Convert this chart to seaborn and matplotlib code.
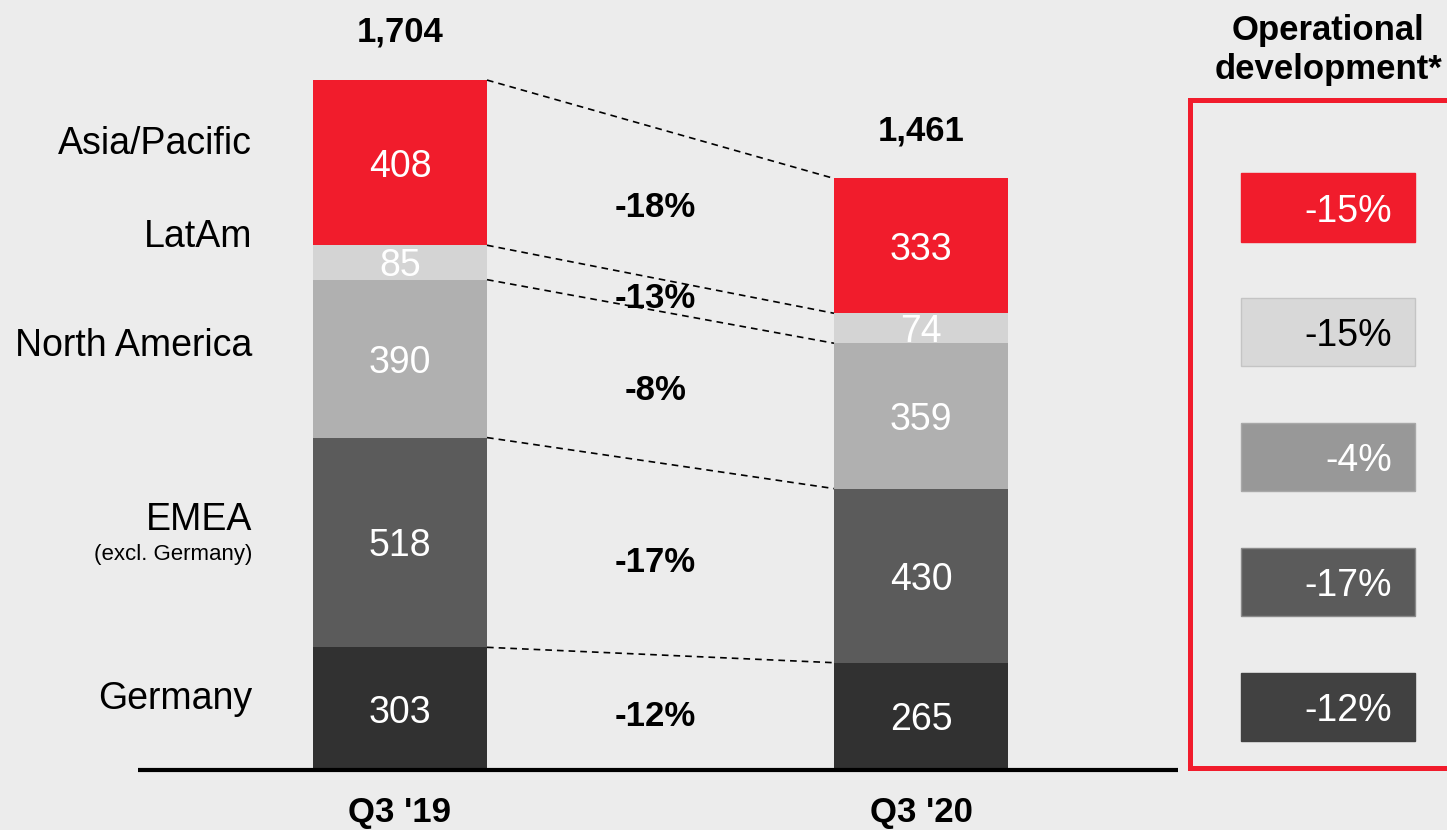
import numpy as np
import pandas as pd
import matplotlib.pyplot as plt
import seaborn as sns

# data, bottom -> top of the stack
regions = ["Germany", "EMEA", "North America", "LatAm", "Asia/Pacific"]
periods = ["Q3 '19", "Q3 '20"]
q3_19 = [303, 518, 390, 85, 408]
q3_20 = [265, 430, 359, 74, 333]
yoy_change = ["-12%", "-17%", "-8%", "-13%", "-18%"]
op_change = ["-12%", "-17%", "-4%", "-15%", "-15%"]

bar_colors = ["#313131", "#5b5b5b", "#b0b0b0", "#d4d4d4", "#f11c2c"]
box_colors = ["#414141", "#5b5b5b", "#989898", "#d8d8d8", "#f11c2c"]
box_edges = ["#414141", "#8a8a8a", "#a8a8a8", "#c4c4c4", "#f11c2c"]
box_text = ["white", "white", "white", "black", "white"]
bg = "#ececec"

sns.set_theme(style="white")
plt.rcParams["font.family"] = ["Liberation Sans", "DejaVu Sans"]
plt.rcParams["text.color"] = "black"
plt.rcParams["xtick.color"] = "black"
plt.rcParams["xtick.labelcolor"] = "black"

W, H = 1447, 830
fig = plt.figure(figsize=(W / 100, H / 100), dpi=100, facecolor=bg)

# main stacked bar chart (pixel-mapped axes)
ax = fig.add_axes([0, 60 / H, 1, 770 / H])
ax.set_facecolor("none")
bw = 174 / 521

cum19 = np.cumsum(q3_19)
cum20 = np.cumsum(q3_20)

# stack by overlaying cumulative bars, top layer first
for i in reversed(range(len(regions))):
    df = pd.DataFrame({"period": periods, "top": [cum19[i], cum20[i]]})
    sns.barplot(data=df, x="period", y="top", color=bar_colors[i],
                saturation=1, width=bw, linewidth=0, ax=ax)

ax.set_xlim(-400 / 521, 1047 / 521)
ax.set_ylim(0, 770 / 0.4049)
for s in ax.spines.values():
    s.set_visible(False)
ax.set_yticks([])
ax.set_xlabel("")
ax.set_ylabel("")
ax.set_xticks([0, 1])
ax.set_xticklabels(periods, fontsize=25, fontweight="bold", color="black")
ax.tick_params(axis="x", length=0, pad=19)

# small vertical nudges (points) for the region names
name_offset = {"Germany": 10, "EMEA": 19, "North America": 12, "LatAm": 21, "Asia/Pacific": 16}

# segment values
for i in range(len(regions)):
    m19 = cum19[i] - q3_19[i] / 2
    m20 = cum20[i] - q3_20[i] / 2
    ax.text(0, m19, str(q3_19[i]), ha="center", va="center_baseline",
            color="white", fontsize=27)
    ax.text(1, m20, str(q3_20[i]), ha="center", va="center_baseline",
            color="white", fontsize=27)
    # change between periods
    ax.text(0.49, (m19 + m20) / 2, yoy_change[i], ha="center", va="center_baseline",
            fontsize=25, fontweight="bold", color="black")
    # connector lines
    ax.plot([bw / 2, 1 - bw / 2], [cum19[i], cum20[i]], color="black",
            lw=1.2, ls=(0, (4, 3)))
    # region names on the left
    name = regions[i]
    ax.annotate(name, (-0.284, m19), xytext=(0, name_offset[name]),
                textcoords="offset points", ha="right", va="center_baseline",
                fontsize=27, color="black")
    if name == "EMEA":
        ax.annotate("(excl. Germany)", (-0.284, m19), xytext=(0, -7),
                    textcoords="offset points", ha="right", va="center_baseline",
                    fontsize=16, color="black")

# totals
for x, total in zip([0, 1], [cum19[-1], cum20[-1]]):
    ax.annotate(f"{total:,}", (x, total), xytext=(0, 37), textcoords="offset points",
                ha="center", va="center_baseline", fontsize=25, fontweight="bold",
                color="black")

# baseline
ax.hlines(0, (138 - 400) / 521, (1178 - 400) / 521, color="black", lw=3, clip_on=False)

# operational development panel
ax2 = fig.add_axes([1190 / W, (H - 768) / H, 300 / W, 668 / H])
ax2.set_facecolor("none")
ypos = np.arange(len(regions))[::-1]
ax2.barh(ypos, 174, left=51, height=0.545, color=box_colors,
         edgecolor=box_edges, linewidth=1)
for y, lab, tc in zip(ypos, op_change, box_text):
    ax2.text(202, y, lab, ha="right", va="center_baseline", fontsize=27, color=tc)
ax2.set_xlim(0, 300)
ax2.set_ylim(4.488, -0.861)
ax2.set_xticks([])
ax2.set_yticks([])
for side in ["left", "top", "bottom"]:
    ax2.spines[side].set_color("#f11c2c")
    ax2.spines[side].set_linewidth(3.6)
ax2.spines["right"].set_visible(False)

fig.text(1328 / W, 1 - 50 / H, "Operational\ndevelopment*", ha="center", va="center",
         fontsize=25, fontweight="bold", color="black")

fig.savefig("out.png", dpi=100, facecolor=bg)
